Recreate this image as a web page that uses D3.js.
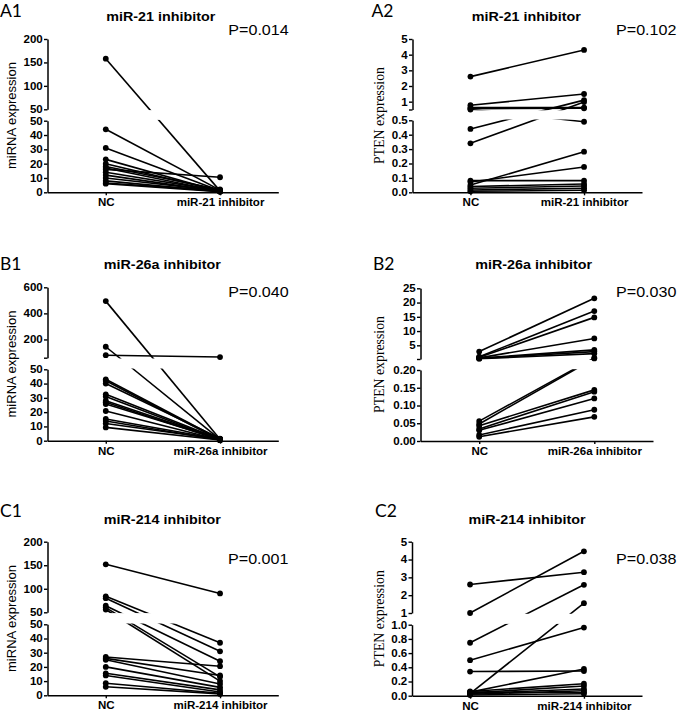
<!DOCTYPE html>
<html><head><meta charset="utf-8">
<script src="https://cdn.jsdelivr.net/npm/d3@7"></script>
<style>body{margin:0;background:#fff}</style>
</head><body><svg id="c" width="677" height="711" xmlns="http://www.w3.org/2000/svg"></svg>
<script>
// ---------- data ----------
const groupsA = ["NC", "miR-21 inhibitor"];
const groupsB = ["NC", "miR-26a inhibitor"];
const groupsC = ["NC", "miR-214 inhibitor"];
const titles = ["miR-21 inhibitor", "miR-26a inhibitor", "miR-214 inhibitor"];
const pValues = ["P=0.014", "P=0.102", "P=0.040", "P=0.030", "P=0.001", "P=0.038"];
const panelLabels = ["A1", "A2", "B1", "B2", "C1", "C2"];
const yTitles = ["miRNA expression", "PTEN expression"];

const a1NC  = [158, 44, 31, 23, 20, 18, 17, 16, 14, 12, 10, 8, 6.5, 6];
const a1Inh = [1.0, 1.5, 1.0, 0.5, 1.0, 2.0, 0.5, 10.5, 1.0, 0.5, 1.0, 0.5, 1.0, 0.5];
const a2NC  = [2.6, 0.77, 0.62, 0.55, 0.50, 0.44, 0.34, 0.081, 0.072, 0.05, 0.04, 0.028, 0.016, 0.007];
const a2Inh = [4.3, 1.49, 0.62, 0.58, 0.49, 1.1, 0.98, 0.081, 0.176, 0.282, 0.058, 0.044, 0.028, 0.014];
const b1NC  = [494, 144, 79, 43, 42, 40, 32.5, 31, 28, 27, 25.7, 20.8, 15.2, 13.8, 12, 9.3];
const b1Inh = [1, 1, 65, 1, 0.5, 1.5, 1, 0.5, 1, 0.5, 1, 0.5, 1, 0.5, 1, 0.5];
const b2NC  = [2.8, 1.0, 0.8, 0.6, 0.5, 0.4, 0.3, 0.056, 0.048, 0.043, 0.034, 0.03, 0.017, 0.012];
const b2Inh = [21.5, 17, 14.8, 7.4, 3.4, 2.8, 2.1, 0.6, 0.4, 0.144, 0.139, 0.12, 0.088, 0.068];
const c1NC  = [152, 84, 80, 64, 60, 56, 27, 26, 25, 20, 15.5, 14, 8.5, 6];
const c1Inh = [90, 37, 31, 24, 13, 10, 20.5, 14, 8, 5.6, 3.8, 2.3, 1.4, 1];
const c2NC  = [2.6, 1.0, 0.746, 0.5, 0.34, 0.03, 0.05, 0.06, 0.04, 0.03, 0.02, 0.05, 0.01];
const c2Inh = [3.29, 4.46, 2.58, 0.96, 0.347, 1.55, 0.376, 0.169, 0.136, 0.094, 0.07, 0.047, 0.028];

// broken y-axis segments: [lower, upper]
const a1Top = [50, 200],  a1Bot = [0, 50];
const a2Top = [0.5, 5],   a2Bot = [0, 0.5];
const b1Top = [60, 600],  b1Bot = [0, 50];
const b2Top = [0.2, 25],  b2Bot = [0, 0.2];
const c1Top = [50, 200],  c1Bot = [0, 50];
const c2Top = [1, 5],     c2Bot = [0, 1];

const a1TopTicks = [50, 100, 150, 200], a1BotTicks = [0, 10, 20, 30, 40, 50];
const a2TopTicks = [0.5, 1, 2, 3, 4, 5], a2BotTicks = [0, 0.1, 0.2, 0.3, 0.4, 0.5];
const b1TopTicks = [60, 200, 400, 600], b1BotTicks = [0, 10, 20, 30, 40, 50];
const b2TopTicks = [0.2, 5, 10, 15, 20, 25], b2BotTicks = [0, 0.05, 0.10, 0.15, 0.20];
const c1TopTicks = [50, 100, 150, 200], c1BotTicks = [0, 10, 20, 30, 40, 50];
const c2TopTicks = [1, 2, 3, 4, 5], c2BotTicks = [0, 0.2, 0.4, 0.6, 0.8, 1.0];

// ---------- drawing ----------
const svg = d3.select("#c");
const SANS = "'Liberation Sans', Arial, sans-serif";
const SERIF = "'Liberation Serif', 'Times New Roman', serif";

function fmtTop(hideFirst, lo) { return v => (hideFirst && v === lo) ? "" : d3.format("d")(v); }

const panels = [
  {lab:0, title:0, groups:groupsA, nc:a1NC, inh:a1Inh, top:a1Top, bot:a1Bot, tt:a1TopTicks, bt:a1BotTicks,
   tf:fmtTop(false), bf:d3.format("d"), yt:0,
   L:{ax:47.5, ex:278.3, tr:[109.3, 39], br:[192.3, 120.7], tx:160.8, ty:20.7, px:228.3, py:35, lx:0, ly:17.3, yx:16, yc:115.6}},
  {lab:1, title:0, groups:groupsA, nc:a2NC, inh:a2Inh, top:a2Top, bot:a2Bot, tt:a2TopTicks, bt:a2BotTicks,
   tf:fmtTop(true, 0.5), bf:d3.format(".1f"), yt:1,
   L:{ax:412.5, ex:642, tr:[109.5, 39], br:[192.3, 120.3], tx:526.3, ty:20.7, px:616, py:35, lx:371.5, ly:17.3, yx:383.5, yc:115.5}},
  {lab:2, title:1, groups:groupsB, nc:b1NC, inh:b1Inh, top:b1Top, bot:b1Bot, tt:b1TopTicks, bt:b1BotTicks,
   tf:fmtTop(true, 60), bf:d3.format("d"), yt:0,
   L:{ax:47.5, ex:278.3, tr:[357.7, 287.3], br:[440.7, 369.3], tx:162.3, ty:269, px:228.3, py:296.7, lx:0, ly:270, yx:16, yc:364}},
  {lab:3, title:1, groups:groupsB, nc:b2NC, inh:b2Inh, top:b2Top, bot:b2Bot, tt:b2TopTicks, bt:b2BotTicks,
   tf:fmtTop(true, 0.2), bf:d3.format(".2f"), yt:1,
   L:{ax:420.5, ex:653, tr:[359, 288.3], br:[441, 370], tx:533.7, ty:269, px:616, py:296.7, lx:373, ly:270, yx:383.5, yc:364.5}},
  {lab:4, title:2, groups:groupsC, nc:c1NC, inh:c1Inh, top:c1Top, bot:c1Bot, tt:c1TopTicks, bt:c1BotTicks,
   tf:fmtTop(false), bf:d3.format("d"), yt:0,
   L:{ax:47.5, ex:278.3, tr:[612.3, 541.7], br:[695.3, 624.3], tx:162.3, ty:524, px:228, py:564, lx:0, ly:516.7, yx:16, yc:618.5}},
  {lab:5, title:2, groups:groupsC, nc:c2NC, inh:c2Inh, top:c2Top, bot:c2Bot, tt:c2TopTicks, bt:c2BotTicks,
   tf:fmtTop(false), bf:d3.format(".1f"), yt:1,
   L:{ax:412, ex:642, tr:[613, 541.7], br:[695.7, 624.7], tx:527, ty:524, px:616, py:563.5, lx:375, ly:516.7, yx:383.5, yc:618.7}}
];

function styleAxis(sel, sx) {
  sel.select(".domain").attr("stroke", "#000").attr("stroke-width", 1.5);
  sel.selectAll(".tick line").attr("stroke", "#000").attr("stroke-width", 1.4);
  sel.selectAll(".tick text")
     .attr("fill", "#000")
     .style("font-family", SANS).style("font-weight", "bold").style("font-size", "10.5px")
     .attr("transform", `scale(${sx},1)`);
}

panels.forEach((P, k) => {
  const L = P.L;
  const g = svg.append("g");
  const x = d3.scalePoint().domain(P.groups).range([L.ax, L.ex]).padding(0.51);
  const yT = d3.scaleLinear().domain(P.top).range(L.tr);
  const yB = d3.scaleLinear().domain(P.bot).range(L.br);
  const y = v => v >= P.top[0] ? yT(v) : yB(v);

  // connecting lines
  const line = d3.line();
  g.append("g").selectAll("path").data(P.nc).join("path")
    .attr("d", (v, i) => line([[x(P.groups[0]), y(v)], [x(P.groups[1]), y(P.inh[i])]]))
    .attr("fill", "none").attr("stroke", "#000").attr("stroke-width", 1.6);

  // break gap
  g.append("rect")
    .attr("x", L.ax + 1).attr("y", L.tr[0] + 0.8)
    .attr("width", L.ex - L.ax + 6).attr("height", L.br[1] - L.tr[0] - 1.6)
    .attr("fill", "#fff");

  // points
  const pts = [];
  P.nc.forEach((v, i) => { pts.push([P.groups[0], v]); pts.push([P.groups[1], P.inh[i]]); });
  g.append("g").selectAll("circle").data(pts).join("circle")
    .attr("cx", d => x(d[0])).attr("cy", d => y(d[1])).attr("r", 2.9).attr("fill", "#000");

  // axes
  const gt = g.append("g").attr("transform", `translate(${L.ax},0)`)
    .call(d3.axisLeft(yT).tickValues(P.tt).tickFormat(P.tf).tickSize(3.5).tickSizeOuter(0).tickPadding(0.8));
  styleAxis(gt, 1.1);
  const gb = g.append("g").attr("transform", `translate(${L.ax},0)`)
    .call(d3.axisLeft(yB).tickValues(P.bt).tickFormat(P.bf).tickSize(3.5).tickSizeOuter(0).tickPadding(0.8));
  styleAxis(gb, 1.1);
  const gx = g.append("g").attr("transform", `translate(0,${L.br[0]})`)
    .call(d3.axisBottom(x).tickSize(3).tickSizeOuter(0).tickPadding(3.5));
  styleAxis(gx, 1.1);

  // title
  g.append("text").attr("transform", `translate(${L.tx},${L.ty}) scale(1.12,1)`)
    .attr("text-anchor", "middle").style("font-family", SANS).style("font-weight", "bold")
    .style("font-size", "12.8px").text(titles[P.title]);
  // p value
  g.append("text").attr("transform", `translate(${L.px},${L.py}) scale(1.15,1)`)
    .style("font-family", SANS).style("font-size", "14px").text(pValues[k]);
  // panel letter
  g.append("text").attr("x", L.lx).attr("y", L.ly)
    .style("font-family", "Lato, 'Open Sans', sans-serif").style("font-size", "17.5px").text(panelLabels[P.lab]);
  // y title
  g.append("text").attr("transform", `translate(${L.yx},${L.yc}) rotate(-90)`)
    .attr("text-anchor", "middle")
    .style("font-family", P.yt === 0 ? SANS : SERIF)
    .style("font-size", P.yt === 0 ? "13px" : "13.8px")
    .text(yTitles[P.yt]);
});
</script>
</body></html>
